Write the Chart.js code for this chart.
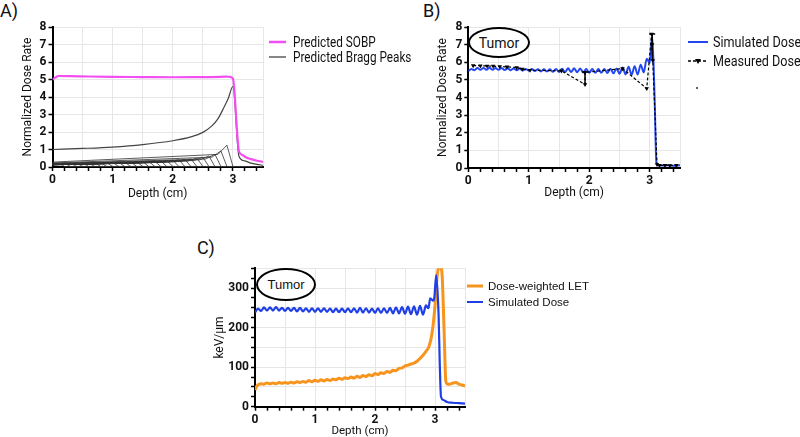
<!DOCTYPE html>
<html>
<head>
<meta charset="utf-8">
<script src="https://cdn.jsdelivr.net/npm/chart.js@4.4.0/dist/chart.umd.min.js"></script>
<style>
  body { margin: 0; background: #fff; width: 800px; height: 437px; position: relative; overflow: hidden;
         font-family: Roboto, 'Liberation Sans', sans-serif; color: #111; }
  canvas { position: absolute; }
  .panel { position: absolute; font-size: 18px; }
  .leg { position: absolute; height: 18px; display: flex; align-items: center; white-space: nowrap; font-size: 14px; }
  .leg svg { display: block; }
  .leg span { margin-left: 7px; display: inline-block; transform: scaleX(0.84); transform-origin: left center; }
  .arial { font-family: 'Liberation Sans', Arial, sans-serif; font-size: 11.5px; }
  .arial span { transform: none; }
  .tumor { position: absolute; border: 2px solid #000; border-radius: 50%; box-sizing: border-box; background: #fff;
           display: flex; align-items: center; justify-content: center; font-size: 14px; }
</style>
</head>
<body>
<div class="panel" style="left:0px;top:0px">A)</div>
<div class="panel" style="left:423px;top:0px">B)</div>
<div class="panel" style="left:197px;top:237px">C)</div>

<canvas id="chartA" width="275" height="205" style="left:0px;top:0px"></canvas>
<canvas id="chartB" width="290" height="205" style="left:400px;top:0px"></canvas>
<canvas id="chartC" width="285" height="200" style="left:190px;top:240px"></canvas>

<div class="leg" style="left:269px;top:33px">
  <svg width="17" height="4"><line x1="0" y1="2" x2="17" y2="2" stroke="#f24ff2" stroke-width="2.5"/></svg>
  <span>Predicted SOBP</span>
</div>
<div class="leg" style="left:269px;top:48px">
  <svg width="17" height="4"><line x1="0" y1="2" x2="17" y2="2" stroke="#444" stroke-width="1.3"/></svg>
  <span>Predicted Bragg Peaks</span>
</div>

<div class="leg" style="left:688px;top:33px;font-size:15px">
  <svg width="20" height="4"><line x1="0" y1="2" x2="20" y2="2" stroke="#2448f0" stroke-width="2"/></svg>
  <span style="margin-left:5px">Simulated Dose</span>
</div>
<div class="leg" style="left:688px;top:52px;font-size:15px">
  <svg width="20" height="8"><line x1="0" y1="4" x2="20" y2="4" stroke="#000" stroke-width="1.3" stroke-dasharray="3,2"/><polygon points="7,2 13,2 10,7" fill="#000"/></svg>
  <span style="margin-left:5px">Measured Dose</span>
</div>
<div style="position:absolute;left:696px;top:87px;width:2px;height:2px;background:#666"></div>

<div class="leg arial" style="left:467px;top:277px">
  <svg width="16" height="4"><line x1="0" y1="2" x2="16" y2="2" stroke="#f7941d" stroke-width="3"/></svg>
  <span style="margin-left:5px">Dose-weighted LET</span>
</div>
<div class="leg arial" style="left:467px;top:293px">
  <svg width="16" height="4"><line x1="0" y1="2" x2="16" y2="2" stroke="#1f3fe6" stroke-width="2"/></svg>
  <span style="margin-left:5px">Simulated Dose</span>
</div>

<div class="tumor" style="left:468px;top:27px;width:62px;height:31px">Tumor</div>
<div class="tumor" style="left:256px;top:268px;width:60px;height:33px;font-family:'Liberation Sans',Arial,sans-serif;font-size:13px">Tumor</div>

<script>
const FONT = "Roboto, 'Liberation Sans', sans-serif";

// ---- Panel A: SOBP and the individual Bragg peaks ----
const sobpDepth = [0, 0.05, 0.1, 0.3, 0.6, 1.0, 1.5, 2.0, 2.5, 2.8, 2.9, 2.95, 3.0, 3.1, 3.15, 3.22, 3.3, 3.4, 3.5];
const sobpDose  = [5.0, 5.12, 5.2, 5.19, 5.17, 5.15, 5.14, 5.13, 5.14, 5.15, 5.17, 5.15, 5.05, 0.9, 0.7, 0.54, 0.45, 0.36, 0.29];

const bigPeakDepth = [0, 0.5, 1.0, 1.5, 2.0, 2.3, 2.5, 2.65, 2.75, 2.85, 2.92, 3.0, 3.1, 3.2, 3.3, 3.4, 3.5];
const bigPeakDose  = [1.0, 1.06, 1.14, 1.28, 1.5, 1.72, 1.98, 2.35, 2.75, 3.4, 3.9, 4.6, 0.62, 0.35, 0.22, 0.15, 0.1];

const peakRange    = [0.1, 0.2, 0.3, 0.4, 0.5, 0.6, 0.7, 0.8, 0.9, 1.0, 1.1, 1.2, 1.3, 1.4, 1.5,
                      1.6, 1.7, 1.8, 1.9, 2.0, 2.1, 2.2, 2.3, 2.4, 2.5, 2.6, 2.7, 2.8, 2.9];
const peakEntry    = [0.20, 0.19, 0.18, 0.17, 0.16, 0.15, 0.15, 0.14, 0.14, 0.14, 0.13, 0.13, 0.13, 0.13, 0.13,
                      0.13, 0.13, 0.13, 0.14, 0.14, 0.14, 0.15, 0.15, 0.16, 0.17, 0.18, 0.20, 0.23, 0.28];
const peakShoulder = [0.21, 0.20, 0.20, 0.20, 0.20, 0.20, 0.20, 0.20, 0.20, 0.20, 0.21, 0.21, 0.22, 0.22, 0.23,
                      0.23, 0.24, 0.25, 0.26, 0.27, 0.29, 0.30, 0.32, 0.34, 0.37, 0.41, 0.46, 0.56, 0.72];
const peakTop      = [0.22, 0.22, 0.23, 0.23, 0.24, 0.24, 0.25, 0.25, 0.26, 0.26, 0.27, 0.28, 0.29, 0.30, 0.31,
                      0.32, 0.33, 0.35, 0.37, 0.39, 0.41, 0.44, 0.47, 0.51, 0.56, 0.63, 0.73, 0.92, 1.25];

// ---- Panel B: simulated vs measured dose ----
const simDepthB = [0, 0.05, 0.1, 0.15, 0.2, 0.25, 0.3, 0.35, 0.4, 0.45, 0.5, 0.55, 0.6, 0.65, 0.7, 0.75, 0.8, 0.85, 0.9, 0.95,
                   1.0, 1.05, 1.1, 1.15, 1.2, 1.25, 1.3, 1.35, 1.4, 1.45, 1.5, 1.55, 1.6, 1.65, 1.7, 1.75, 1.8, 1.85, 1.9, 1.95,
                   2.0, 2.05, 2.1, 2.15, 2.2, 2.25, 2.3, 2.35, 2.4, 2.45, 2.5, 2.55, 2.6, 2.65, 2.7, 2.75, 2.8, 2.85, 2.9, 2.95,
                   3.0, 3.04, 3.08, 3.11, 3.15, 3.2, 3.3, 3.4, 3.5];
const simDoseB  = [5.50, 5.62, 5.55, 5.68, 5.57, 5.68, 5.57, 5.69, 5.57, 5.67, 5.57, 5.67, 5.56, 5.66, 5.55, 5.65, 5.54, 5.64, 5.53, 5.62,
                   5.52, 5.61, 5.50, 5.60, 5.48, 5.60, 5.47, 5.60, 5.46, 5.62, 5.45, 5.63, 5.44, 5.66, 5.44, 5.66, 5.43, 5.65, 5.42, 5.62,
                   5.40, 5.61, 5.41, 5.61, 5.40, 5.62, 5.39, 5.63, 5.37, 5.65, 5.35, 5.70, 5.31, 5.75, 5.29, 5.78, 5.30, 5.86, 5.42, 6.20,
                   5.95, 7.50, 4.00, 0.30, 0.16, 0.14, 0.15, 0.13, 0.15];

const measDepth = [0.08, 0.2, 0.31, 0.41, 0.52, 0.64, 0.8, 0.89, 1.02, 1.54, 1.93, 1.93, 2.55, 2.95, 3.03, 3.04, 3.05, 3.12, 3.16, 3.25, 3.33, 3.44];
const measDose  = [5.81, 5.80, 5.79, 5.78, 5.76, 5.74, 5.70, 5.62, 5.55, 5.51, 4.74, 5.42, 5.64, 4.51, 7.6, 7.0, 6.1, 0.2, 0.15, 0.15, 0.14, 0.15];
const errDepth  = [1.93, 3.04];
const errLow    = [4.74, 6.1];
const errHigh   = [5.45, 7.6];

// ---- Panel C: dose-weighted LET and simulated dose ----
const letDepth = [0, 0.03, 0.06, 0.1, 0.15, 0.2, 0.25, 0.3, 0.35, 0.4, 0.45, 0.5, 0.55, 0.6, 0.65, 0.7, 0.75, 0.8, 0.85, 0.9, 0.95,
                  1.0, 1.05, 1.1, 1.15, 1.2, 1.25, 1.3, 1.35, 1.4, 1.45, 1.5, 1.55, 1.6, 1.65, 1.7, 1.75, 1.8, 1.85, 1.9, 1.95,
                  2.0, 2.05, 2.1, 2.15, 2.2, 2.25, 2.3, 2.35, 2.4, 2.45, 2.5, 2.55, 2.6, 2.65, 2.7, 2.75, 2.8, 2.85, 2.9, 2.95,
                  3.0, 3.03, 3.06, 3.1, 3.12, 3.15, 3.18, 3.2, 3.25, 3.3, 3.35, 3.4, 3.45, 3.5];
const letValue = [42, 52, 56, 58, 57, 60, 58, 60, 58, 61, 59, 61, 59, 62, 60, 63, 61, 64, 62, 66, 63,
                  67, 64, 68, 65, 69, 66, 70, 68, 72, 69, 73, 71, 75, 72, 77, 74, 79, 76, 81, 78,
                  84, 81, 86, 84, 89, 87, 92, 91, 97, 98, 103, 105, 108, 110, 115, 122, 130, 140, 152, 185,
                  255, 320, 350, 350, 330, 200, 65, 58, 57, 60, 61, 57, 55, 52];

const simDepthC = [0, 0.05, 0.1, 0.15, 0.2, 0.25, 0.3, 0.35, 0.4, 0.45, 0.5, 0.55, 0.6, 0.65, 0.7, 0.75, 0.8, 0.85, 0.9, 0.95,
                   1.0, 1.05, 1.1, 1.15, 1.2, 1.25, 1.3, 1.35, 1.4, 1.45, 1.5, 1.55, 1.6, 1.65, 1.7, 1.75, 1.8, 1.85, 1.9, 1.95,
                   2.0, 2.05, 2.1, 2.15, 2.2, 2.25, 2.3, 2.35, 2.4, 2.45, 2.5, 2.55, 2.6, 2.65, 2.7, 2.75, 2.8, 2.85, 2.89, 2.92,
                   2.97, 2.99, 3.02, 3.06, 3.08, 3.1, 3.14, 3.2, 3.3, 3.4, 3.5];
const simDoseC  = [238, 248, 242, 251, 243, 251, 243, 252, 243, 250, 242, 250, 242, 250, 241, 250, 241, 249, 240, 249,
                   240, 249, 240, 249, 240, 248, 239, 248, 239, 248, 239, 249, 239, 249, 238, 250, 238, 249, 238, 248,
                   237, 249, 237, 249, 237, 250, 236, 251, 236, 252, 235, 253, 234, 254, 233, 255, 233, 256, 249, 274,
                   268, 277, 333, 231, 105, 25, 17, 12, 10, 9, 8];

const pts = (xs, ys) => xs.map((x, i) => ({ x, y: ys[i] }));
const near = (v, step) => Math.abs(v / step - Math.round(v / step)) < 1e-6;
const GRID = '#e6e6e6';
const NONE = 'rgba(0,0,0,0)';

function depthAxis(height, titleSize, titlePad) {
  return {
    type: 'linear', min: 0, max: 3.5,
    afterFit: (s) => { s.height = height; },
    border: { color: '#000', width: 2 },
    grid: {
      color: (c) => (c.tick && near(c.tick.value, 0.5) ? GRID : NONE),
      tickColor: (c) => (c.tick && near(c.tick.value, 0.2) ? '#000' : NONE),
      tickLength: 4, tickWidth: 1.5
    },
    ticks: {
      stepSize: 0.1, autoSkip: false, maxRotation: 0, padding: 2, color: '#111',
      font: { family: FONT, size: 12, weight: 'bold' },
      callback: (v) => (near(v, 1) ? String(Math.round(v)) : '')
    },
    title: { display: true, text: 'Depth (cm)', color: '#111', font: { family: FONT, size: titleSize }, padding: { top: 0, bottom: titlePad } }
  };
}

function valueAxis(o) {
  return {
    min: 0, max: o.max,
    afterFit: (s) => { s.width = o.width; },
    border: { color: '#000', width: 2 },
    grid: {
      color: (c) => (c.tick && near(c.tick.value, o.gridStep) ? GRID : NONE),
      tickColor: '#000', tickLength: 4, tickWidth: 1.5
    },
    ticks: {
      stepSize: o.step, autoSkip: false, padding: 2, color: '#111',
      font: { family: FONT, size: 12, weight: 'bold' },
      callback: (v) => (near(v, o.labelStep) ? String(v) : '')
    },
    title: { display: true, text: o.title, color: '#111', font: { family: FONT, size: 12 }, padding: { top: o.titlePad, bottom: 0 } }
  };
}

const baseOptions = (padding, x, y) => ({
  responsive: false,
  animation: false,
  layout: { padding },
  plugins: { legend: { display: false }, tooltip: { enabled: false } },
  scales: { x, y }
});

// error bars on the measured dose
const errorBars = {
  id: 'errorBars',
  afterDatasetsDraw(chart) {
    const { ctx, scales: { x, y } } = chart;
    ctx.save();
    ctx.strokeStyle = '#000';
    ctx.lineWidth = 1.5;
    errDepth.forEach((d, i) => {
      const px = x.getPixelForValue(d);
      const lo = y.getPixelForValue(errLow[i]);
      const hi = y.getPixelForValue(errHigh[i]);
      ctx.beginPath();
      ctx.moveTo(px, lo); ctx.lineTo(px, hi);
      ctx.moveTo(px - 3, hi); ctx.lineTo(px + 3, hi);
      ctx.stroke();
    });
    ctx.restore();
  }
};

// Panel A
const smallPeaks = peakRange.map((r, i) => {
  const data = [{ x: 0, y: peakEntry[i] }];
  if (r > 0.2) data.push({ x: r - 0.15, y: peakShoulder[i] });
  data.push({ x: r, y: peakTop[i] }, { x: r + 0.1, y: 0.03 }, { x: 3.5, y: 0.02 });
  return { data, borderColor: '#333', borderWidth: 0.8, pointRadius: 0, tension: 0 };
});

new Chart(document.getElementById('chartA'), {
  type: 'line',
  data: {
    datasets: [
      { data: pts(sobpDepth, sobpDose), borderColor: '#f24ff2', borderWidth: 2.2, pointRadius: 0, cubicInterpolationMode: 'monotone' },
      { data: pts(bigPeakDepth, bigPeakDose), borderColor: '#444', borderWidth: 1.2, pointRadius: 0, cubicInterpolationMode: 'monotone' },
      ...smallPeaks
    ]
  },
  options: baseOptions({ left: 0, right: 12, top: 27, bottom: 0 },
    depthAxis(38, 12, 4),
    valueAxis({ max: 8, step: 1, gridStep: 1, labelStep: 1, width: 52.5, title: 'Normalized Dose Rate', titlePad: 21 }))
});

// Panel B
new Chart(document.getElementById('chartB'), {
  type: 'line',
  data: {
    datasets: [
      { data: pts(measDepth, measDose), borderColor: '#000', borderWidth: 1.2, borderDash: [3, 2],
        pointStyle: 'triangle', rotation: 180, pointRadius: 2.6, pointBackgroundColor: '#000', pointBorderWidth: 0, tension: 0 },
      { data: pts(simDepthB, simDoseB), borderColor: '#2448f0', borderWidth: 2, pointRadius: 0, cubicInterpolationMode: 'monotone' }
    ]
  },
  options: baseOptions({ left: 0, right: 10, top: 27, bottom: 0 },
    depthAxis(37, 12, 4.5),
    valueAxis({ max: 8, step: 1, gridStep: 1, labelStep: 1, width: 68.3, title: 'Normalized Dose Rate', titlePad: 36 })),
  plugins: [errorBars]
});

// Panel C
new Chart(document.getElementById('chartC'), {
  type: 'line',
  data: {
    datasets: [
      { data: pts(simDepthC, simDoseC), borderColor: '#1f3fe6', borderWidth: 2.2, pointRadius: 0, cubicInterpolationMode: 'monotone' },
      { data: pts(letDepth, letValue), borderColor: '#f7941d', borderWidth: 3, pointRadius: 0, cubicInterpolationMode: 'monotone' }
    ]
  },
  options: baseOptions({ left: 0, right: 10, top: 28.3, bottom: 0 },
    depthAxis(33.3, 11.5, 1.5),
    valueAxis({ max: 350, step: 25, gridStep: 50, labelStep: 100, width: 65, title: 'keV/μm', titlePad: 23 }))
});
</script>
</body>
</html>
